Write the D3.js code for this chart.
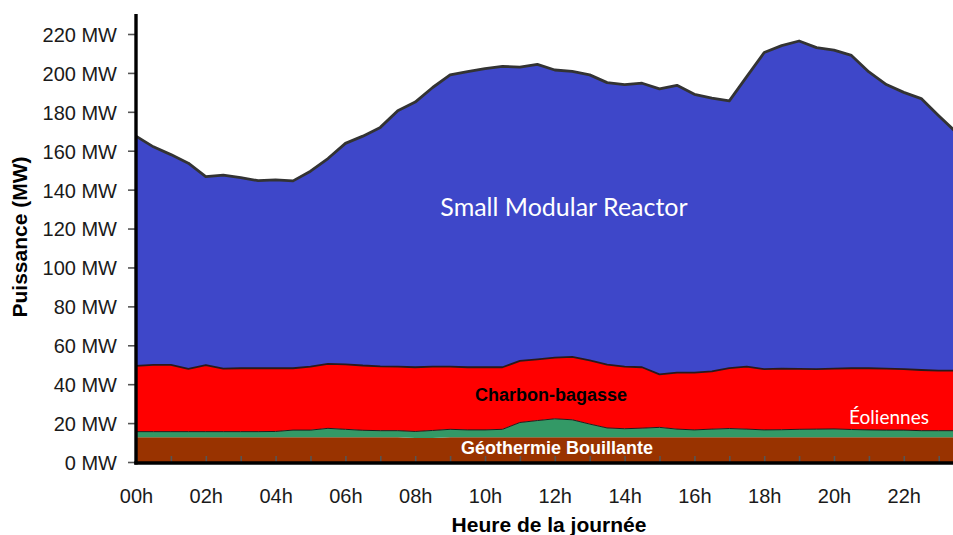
<!DOCTYPE html>
<html>
<head>
<meta charset="utf-8">
<script src="https://cdn.jsdelivr.net/npm/d3@7/dist/d3.min.js"></script>
<style>
  body { margin: 0; background: #fff; }
  svg { display: block; }
</style>
</head>
<body>
<svg id="chart" width="953" height="535"></svg>
<script>
// Half-hourly production by source over one day (MW)
const hours = [0, 0.5, 1, 1.5, 2, 2.5, 3, 3.5, 4, 4.5, 5, 5.5, 6, 6.5, 7, 7.5,
  8, 8.5, 9, 9.5, 10, 10.5, 11, 11.5, 12, 12.5, 13, 13.5, 14, 14.5, 15, 15.5,
  16, 16.5, 17, 17.5, 18, 18.5, 19, 19.5, 20, 20.5, 21, 21.5, 22, 22.5, 23, 23.5];

const geothermie = [12.7, 12.7, 12.7, 12.7, 12.7, 12.7, 12.7, 12.7, 12.7, 12.7, 12.7, 12.7, 12.7, 12.7, 12.7, 12.7,
  12.3, 12.4, 12.7, 12.7, 12.7, 12.7, 12.7, 12.7, 12.7, 12.7, 12.7, 12.7, 12.7, 12.7, 12.7, 12.7,
  12.7, 12.7, 12.7, 12.7, 12.7, 12.7, 12.7, 12.7, 12.7, 12.7, 12.7, 12.7, 12.7, 12.7, 12.7, 12.7];

const eoliennes = [2.9, 2.9, 2.9, 2.9, 2.9, 2.9, 2.9, 2.9, 3.0, 3.7, 3.7, 4.6, 4.1, 3.6, 3.4, 3.4,
  3.4, 3.8, 4.1, 3.8, 3.8, 4.1, 7.6, 8.6, 9.5, 9.0, 6.8, 4.8, 4.4, 4.7, 5.1, 4.2,
  3.8, 4.2, 4.5, 4.2, 3.8, 3.9, 4.1, 4.2, 4.3, 4.0, 3.8, 3.7, 3.7, 3.4, 3.4, 3.4];

const charbonBagasse = [33.8, 34.3, 34.3, 32.3, 34.2, 32.4, 32.6, 32.6, 32.5, 31.8, 32.6, 33.1, 33.4, 33.3, 33.1, 32.9,
  33.0, 32.8, 32.2, 32.2, 32.2, 31.9, 31.7, 31.5, 31.4, 32.3, 32.7, 32.5, 31.9, 31.3, 27.2, 29.0,
  29.4, 29.7, 31.1, 32.1, 31.2, 31.4, 31.1, 30.8, 31.0, 31.5, 31.7, 31.6, 31.3, 31.2, 30.9, 30.8];

const smr = [118.1, 112.1, 108.1, 105.7, 96.9, 99.5, 98.0, 96.4, 96.8, 96.3, 100.5, 105.6, 113.6, 117.9, 122.8, 131.5,
  136.3, 143.5, 150.0, 152.0, 153.5, 154.7, 151.0, 151.6, 147.9, 146.8, 146.8, 145.0, 145.0, 146.0, 146.8, 147.7,
  143.1, 140.4, 137.3, 149.1, 162.8, 166.0, 168.5, 165.3, 163.7, 160.8, 152.3, 146.0, 142.3, 139.5, 131.0, 122.6];

const yTickValues = [0, 20, 40, 60, 80, 100, 120, 140, 160, 180, 200, 220];
const xTickHours = d3.range(0, 24);
const xLabelHours = [0, 2, 4, 6, 8, 10, 12, 14, 16, 18, 20, 22];

const seriesKeys = ["geothermie", "eoliennes", "charbon", "smr"];
const seriesColors = {
  geothermie: "#993300",
  eoliennes: "#339966",
  charbon: "#ff0000",
  smr: "#3e47c9"
};

const rows = hours.map((h, i) => ({
  hour: h,
  geothermie: geothermie[i],
  eoliennes: eoliennes[i],
  charbon: charbonBagasse[i],
  smr: smr[i]
}));

const svg = d3.select("#chart");
const W = 953, H = 535;
const x0 = 136, yBase = 462, yTop = 34;

const x = d3.scaleLinear().domain([0, 24]).range([x0, x0 + 24 * 34.9]);
const y = d3.scaleLinear().domain([0, 220]).range([yBase, yTop]);

const stacked = d3.stack().keys(seriesKeys)(rows);

svg.append("defs").append("clipPath").attr("id", "plot-clip")
  .append("rect").attr("x", x0).attr("y", 0).attr("width", W - x0).attr("height", yBase + 1);

const plot = svg.append("g").attr("clip-path", "url(#plot-clip)");

const area = d3.area()
  .x(d => x(d.data.hour))
  .y0(d => y(d[0]))
  .y1(d => y(d[1]));

plot.selectAll("path.layer")
  .data(stacked)
  .join("path")
  .attr("class", "layer")
  .attr("fill", d => seriesColors[d.key])
  .attr("d", area);

// Outlines along the top of each layer
const topLine = d3.line().x(d => x(d.data.hour)).y(d => y(d[1]));
const outline = {
  eoliennes: { color: "#1d1d1d", width: 1 },
  charbon: { color: "#2a1a1a", width: 1.8 },
  smr: { color: "#333333", width: 2.8 }
};
plot.selectAll("path.edge")
  .data(stacked.filter(s => outline[s.key]))
  .join("path")
  .attr("class", "edge")
  .attr("fill", "none")
  .attr("stroke", d => outline[d.key].color)
  .attr("stroke-width", d => outline[d.key].width)
  .attr("stroke-linejoin", "round")
  .attr("d", topLine);

// Y axis
const yAxis = d3.axisLeft(y)
  .tickValues(yTickValues)
  .tickFormat(d => d + " MW")
  .tickSize(8)
  .tickPadding(11);

const gy = svg.append("g").attr("transform", `translate(${x0},0)`).call(yAxis);
gy.select(".domain").remove();
gy.selectAll(".tick line").attr("stroke", "#555").attr("stroke-width", 1.6);
gy.selectAll(".tick text")
  .attr("dy", "0.37em")
  .attr("fill", "#1a1a1a")
  .style("font-family", "'Liberation Sans', Arial, sans-serif")
  .style("font-size", "20px");

// X axis: hourly ticks pointing up, labels every two hours
const xAxis = d3.axisBottom(x)
  .tickValues(xTickHours)
  .tickSize(-7)
  .tickPadding(26)
  .tickFormat(d => xLabelHours.includes(d) ? String(d).padStart(2, "0") + "h" : "");

const gx = svg.append("g").attr("transform", `translate(0,${yBase + 1})`).call(xAxis);
gx.select(".domain").remove();
gx.selectAll(".tick line").attr("stroke", "#555").attr("stroke-width", 1.6);
gx.selectAll(".tick text")
  .attr("fill", "#1a1a1a")
  .style("font-family", "'Liberation Sans', Arial, sans-serif")
  .style("font-size", "20px");

// Heavy axis lines
svg.append("line")
  .attr("x1", x0).attr("x2", x0).attr("y1", 14).attr("y2", yBase + 2.5)
  .attr("stroke", "#000").attr("stroke-width", 3.4);
svg.append("line")
  .attr("x1", x0 - 1.7).attr("x2", W).attr("y1", yBase + 1).attr("y2", yBase + 1)
  .attr("stroke", "#000").attr("stroke-width", 3.4);

// Axis titles
svg.append("text")
  .attr("transform", "translate(26.5,237) rotate(-90)")
  .attr("text-anchor", "middle")
  .style("font-family", "'Liberation Sans', Arial, sans-serif")
  .style("font-weight", "bold")
  .style("font-size", "21px")
  .attr("fill", "#000")
  .text("Puissance (MW)");

svg.append("text")
  .attr("x", 549).attr("y", 532)
  .attr("text-anchor", "middle")
  .style("font-family", "'Liberation Sans', Arial, sans-serif")
  .style("font-weight", "bold")
  .style("font-size", "21px")
  .attr("fill", "#000")
  .text("Heure de la journée");

// Layer labels
svg.append("text")
  .attr("x", 564).attr("y", 216)
  .attr("text-anchor", "middle")
  .style("font-family", "Lato, 'Open Sans', sans-serif")
  .style("font-size", "25px")
  .attr("fill", "#fff")
  .text("Small Modular Reactor");

svg.append("text")
  .attr("x", 551).attr("y", 401)
  .attr("text-anchor", "middle")
  .style("font-family", "'Liberation Sans', Arial, sans-serif")
  .style("font-weight", "bold")
  .style("font-size", "18px")
  .attr("fill", "#000")
  .text("Charbon-bagasse");

svg.append("text")
  .attr("x", 889).attr("y", 424)
  .attr("text-anchor", "middle")
  .style("font-family", "Lato, 'Open Sans', sans-serif")
  .style("font-size", "19px")
  .attr("fill", "#fff")
  .text("Éoliennes");

svg.append("text")
  .attr("x", 557).attr("y", 454)
  .attr("text-anchor", "middle")
  .style("font-family", "'Liberation Sans', Arial, sans-serif")
  .style("font-weight", "bold")
  .style("font-size", "18px")
  .attr("fill", "#fff")
  .text("Géothermie Bouillante");
</script>
</body>
</html>
